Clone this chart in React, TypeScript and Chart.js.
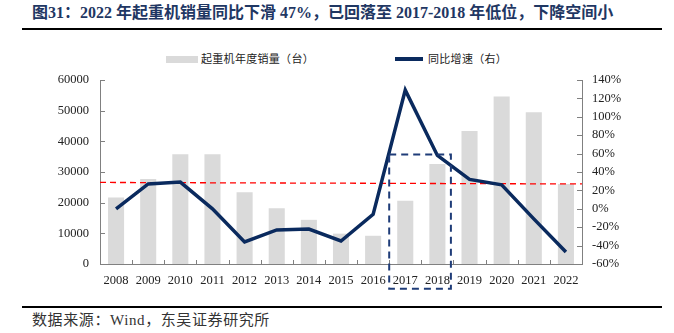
import React, { useEffect, useRef } from 'react';
import { Chart, registerables } from 'chart.js';

Chart.register(...registerables);

const years = ['2008', '2009', '2010', '2011', '2012', '2013', '2014', '2015', '2016', '2017', '2018', '2019', '2020', '2021', '2022'];
const salesUnits = [21700, 27700, 35800, 35800, 23400, 18200, 14400, 9900, 9200, 20600, 32600, 43400, 54600, 49500, 26100];
const yoyGrowth = [0, 27, 29, 0, -36, -23, -22, -35, -6, 129, 58, 32, 26, -11, -47];
const salesLabel = '起重机年度销量（台）';
const growthLabel = '同比增速（右）';
const leftAxis = { min: 0, max: 60000, step: 10000 };
const rightAxis = { min: -60, max: 140, step: 20 };
// reference line (left axis value at left / right end)
const refLine = [26600, 26100];
// highlight box: categories and right-axis value range
const boxCategories = ['2017', '2018'];
const boxRightRange = [-87, 59];

const titleText = '图31：2022 年起重机销量同比下滑 47%，已回落至 2017-2018 年低位，下降空间小';
const sourceText = '数据来源：Wind，东吴证券研究所';

const BAR_COLOR = '#DADADA';
const LINE_COLOR = '#0A2A5E';
const AXIS_COLOR = '#808080';
const TICK_FONT = { family: '"Liberation Serif", "Times New Roman", serif', size: 12.5 };

export default function App() {
  const ref = useRef<HTMLCanvasElement | null>(null);

  useEffect(() => {
    if (!ref.current) return;
    const overlay = {
      id: 'overlay',
      afterDatasetDraw(chart: any, args: any) {
        if (args.index !== 0) return;
        const { ctx, chartArea, scales } = chart;
        const y = scales.y;
        ctx.save();
        ctx.strokeStyle = '#FF0000';
        ctx.lineWidth = 1.3;
        ctx.setLineDash([6, 4]);
        ctx.beginPath();
        ctx.moveTo(chartArea.left, y.getPixelForValue(refLine[0]));
        ctx.lineTo(chartArea.right, y.getPixelForValue(refLine[1]));
        ctx.stroke();
        ctx.restore();
      },
      afterDraw(chart: any) {
        const { ctx, chartArea, scales } = chart;
        const x = scales.x;
        const y = scales.y;
        const y1 = scales.y1;
        ctx.save();
        ctx.strokeStyle = AXIS_COLOR;
        ctx.lineWidth = 1;
        ctx.setLineDash([]);
        ctx.beginPath();
        y.ticks.forEach((t: any) => {
          const py = Math.round(y.getPixelForValue(t.value)) + 0.5;
          ctx.moveTo(chartArea.left, py);
          ctx.lineTo(chartArea.left + 5, py);
        });
        y1.ticks.forEach((t: any) => {
          const py = Math.round(y1.getPixelForValue(t.value)) + 0.5;
          ctx.moveTo(chartArea.right, py);
          ctx.lineTo(chartArea.right - 5, py);
        });
        for (let i = 0; i <= years.length; i++) {
          const px = Math.round(x.getPixelForValue(i - 0.5)) + 0.5;
          ctx.moveTo(px, chartArea.bottom);
          ctx.lineTo(px, chartArea.bottom - 4);
        }
        ctx.stroke();
        const i0 = years.indexOf(boxCategories[0]);
        const i1 = years.indexOf(boxCategories[1]);
        const left = x.getPixelForValue(i0 - 0.5);
        const right = x.getPixelForValue(i1 + 0.42);
        const top = y1.getPixelForValue(boxRightRange[1]);
        const bottom = y1.getPixelForValue(boxRightRange[0]);
        ctx.strokeStyle = '#1F3C78';
        ctx.lineWidth = 2;
        ctx.setLineDash([7, 5]);
        ctx.strokeRect(left, top, right - left, bottom - top);
        ctx.restore();
      },
    };

    const chart = new Chart(ref.current, {
      type: 'bar',
      data: {
        labels: years,
        datasets: [
          {
            type: 'bar',
            label: salesLabel,
            data: salesUnits,
            backgroundColor: BAR_COLOR,
            barPercentage: 0.5,
            categoryPercentage: 1,
            yAxisID: 'y',
            order: 2,
          },
          {
            type: 'line',
            label: growthLabel,
            data: yoyGrowth,
            borderColor: LINE_COLOR,
            borderWidth: 3.5,
            pointRadius: 0,
            tension: 0,
            yAxisID: 'y1',
            order: 1,
          } as any,
        ],
      },
      options: {
        animation: false,
        responsive: false,
        maintainAspectRatio: false,
        layout: { padding: { top: 40, left: 0, right: 0, bottom: 0 } },
        plugins: { legend: { display: false }, tooltip: { enabled: false } },
        scales: {
          x: {
            grid: { display: false, drawTicks: false },
            border: { display: true, color: AXIS_COLOR, width: 1 },
            ticks: { font: TICK_FONT, color: '#222', padding: 9, maxRotation: 0, autoSkip: false },
            afterFit: (s: any) => { s.height = 36; },
          },
          y: {
            position: 'left',
            min: leftAxis.min,
            max: leftAxis.max,
            grid: { display: false, drawTicks: false },
            border: { display: true, color: AXIS_COLOR, width: 1 },
            ticks: { stepSize: leftAxis.step, font: TICK_FONT, color: '#222', padding: 11, callback: (v: any) => String(v) },
            afterFit: (s: any) => { s.width = 100; },
          },
          y1: {
            position: 'right',
            min: rightAxis.min,
            max: rightAxis.max,
            grid: { display: false, drawTicks: false },
            border: { display: true, color: AXIS_COLOR, width: 1 },
            ticks: { stepSize: rightAxis.step, font: TICK_FONT, color: '#222', padding: 10, callback: (v: any) => `${v}%` },
            afterFit: (s: any) => { s.width = 92; },
          },
        },
      },
      plugins: [overlay],
    });
    return () => chart.destroy();
  }, []);

  const cjk = '"Liberation Serif", "Times New Roman", "Noto Sans CJK SC", serif';

  return (
    <div style={{ position: 'fixed', left: 0, top: 0, width: 674, height: 333, background: '#fff', overflow: 'hidden' }}>
      <div style={{ position: 'absolute', left: 32, top: 4, fontFamily: cjk, fontWeight: 'bold', fontSize: 16, lineHeight: '18px', color: '#1F3763', whiteSpace: 'nowrap' }}>
        {titleText}
      </div>
      <div style={{ position: 'absolute', left: 22, top: 28, width: 640, height: 2, background: '#000' }} />
      <div style={{ position: 'absolute', left: 166, top: 56, width: 32, height: 7, background: BAR_COLOR }} />
      <div style={{ position: 'absolute', left: 201, top: 52, fontFamily: cjk, fontSize: 11, letterSpacing: 0.3, lineHeight: '14px', color: '#222', whiteSpace: 'nowrap' }}>{salesLabel}</div>
      <div style={{ position: 'absolute', left: 395, top: 57, width: 28, height: 4, background: LINE_COLOR }} />
      <div style={{ position: 'absolute', left: 428, top: 52, fontFamily: cjk, fontSize: 11, letterSpacing: 0.3, lineHeight: '14px', color: '#222', whiteSpace: 'nowrap' }}>{growthLabel}</div>
      <canvas ref={ref} width={674} height={260} style={{ position: 'absolute', left: 0, top: 40, width: 674, height: 260 }} />
      <div style={{ position: 'absolute', left: 22, top: 306, width: 640, height: 2, background: '#000' }} />
      <div style={{ position: 'absolute', left: 32, top: 311, fontFamily: cjk, fontSize: 15, letterSpacing: 0.6, lineHeight: '18px', color: '#333', whiteSpace: 'nowrap' }}>
        {sourceText}
      </div>
    </div>
  );
}
